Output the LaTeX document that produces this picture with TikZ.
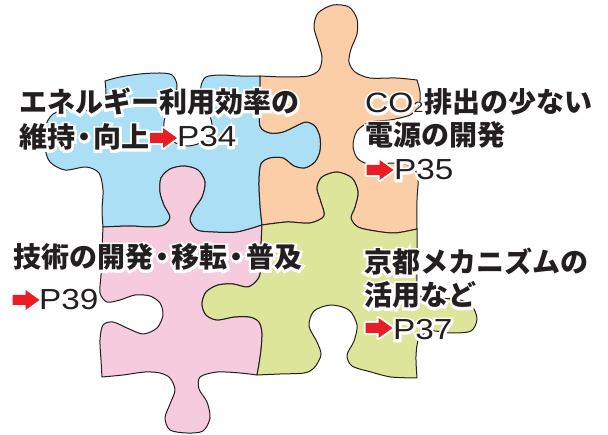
\documentclass[tikz,border=0pt]{standalone}
\usepackage{fontspec}
\newfontfamily\jpfont{Noto Sans CJK JP}
\newfontfamily\jphalo{Noto Sans CJK JP}[FakeBold=17]
\newfontfamily\latfont{Liberation Sans}[FakeStretch=1.15]
\newfontfamily\lathalo{Liberation Sans}[FakeStretch=1.15, FakeBold=17]

\definecolor{pzblue}{RGB}{171,223,246}
\definecolor{pzorange}{RGB}{252,206,168}
\definecolor{pzpink}{RGB}{246,203,222}
\definecolor{pzgreen}{RGB}{221,229,154}
\definecolor{ink}{RGB}{35,31,32}
\definecolor{arrowred}{RGB}{234,28,36}

% narrow middle dot
\newcommand\ndot{\kern-0.17em・\kern-0.17em}

% piece edges (each drawn once forward, once reversed for the neighbour)
\def\sAB{-- plot[smooth] coordinates {(105,81) (120,77) (140,74) (160,73) (172,75) (177,85) (174,100) (166,114) (164,128) (172,141) (188,146) (204,141) (212,128) (209,113) (202,100) (201,86) (206,77) (220,75) (240,76) (260,76)}}
\def\sBE{-- plot[smooth] coordinates {(260,76) (260,100) (260,126) (270,133) (283,132) (296,126) (306,122) (315,126) (320,137) (320,151) (315,162) (305,168) (294,166) (283,158) (270,158) (261,164) (259,182) (260,205) (262,225)}}
\def\sBEr{-- plot[smooth] coordinates {(262,225) (260,205) (259,182) (261,164) (270,158) (283,158) (294,166) (305,168) (315,162) (320,151) (320,137) (315,126) (306,122) (296,126) (283,132) (270,133) (260,126) (260,100) (260,76)}}
\def\sADr{-- plot[smooth] coordinates {(103,227) (102,210) (103,190) (99,173) (86,167) (65,170) (50,162) (45,148) (45,128) (53,114) (72,109) (93,111) (103,106) (106,94) (105,81)}}
\def\sDE{-- plot[smooth] coordinates {(103,227) (130,226) (150,227) (164,225) (170,217) (164,205) (160,192) (161,178) (170,169) (184,166) (198,170) (205,182) (202,197) (194,209) (190,220) (197,230) (213,232) (237,232) (262,225)}}
\def\sDEr{-- plot[smooth] coordinates {(262,225) (237,232) (213,232) (197,230) (190,220) (194,209) (202,197) (205,182) (198,170) (184,166) (170,169) (161,178) (160,192) (164,205) (170,217) (164,225) (150,227) (130,226) (103,227)}}
\def\sEF{-- plot[smooth] coordinates {(262,225) (287,222) (310,223) (324,216) (321,202) (317,188) (322,177) (337,172) (352,178) (358,192) (355,207) (351,218) (358,227) (375,231) (395,233) (417,229)}}
\def\sEFr{-- plot[smooth] coordinates {(417,229) (395,233) (375,231) (358,227) (351,218) (355,207) (358,192) (352,178) (337,172) (322,177) (317,188) (321,202) (324,216) (310,223) (287,222) (262,225)}}
\def\sBC{-- plot[smooth] coordinates {(260,76) (285,77) (308,76) (319,70) (322,57) (318,42) (314,27) (318,13) (333,5) (349,7) (357,19) (357,34) (351,49) (349,62) (355,72) (370,78) (396,78) (417,80)}}
\def\sCF{-- plot[smooth] coordinates {(417,80) (420,92) (419,106) (410,115) (390,120) (370,122) (357,131) (353,146) (358,159) (372,165) (393,163) (411,166) (418,177) (417,200) (417,229)}}
\def\sEH{-- plot[smooth] coordinates {(262,225) (261,248) (261,268) (258,279) (248,287) (233,284) (218,285) (206,292) (202,304) (206,315) (217,320) (234,317) (250,317) (259,322) (262,333) (261,350) (259,364) (257,375)}}
\def\sEHr{-- plot[smooth] coordinates {(257,375) (259,364) (261,350) (262,333) (259,322) (250,317) (234,317) (217,320) (206,315) (202,304) (206,292) (218,285) (233,284) (248,287) (258,279) (261,268) (261,248) (262,225)}}
\def\sDGr{-- plot[smooth] coordinates {(102,377) (101,360) (100,340) (103,325) (113,322) (127,328) (143,334) (157,328) (163,315) (160,303) (150,296) (135,295) (120,300) (107,302) (100,293) (101,275) (102,250) (103,227)}}
\def\sGHr{-- plot[smooth] coordinates {(257,375) (240,373) (217,372) (200,377) (199,389) (207,402) (210,418) (203,431) (187,433) (170,430) (165,418) (170,404) (175,390) (170,378) (160,373) (145,372) (123,375) (102,377)}}
\def\sFI{-- plot[smooth] coordinates {(417,229) (417,260) (417,283) (420,296) (440,298) (460,300) (472,306) (477,319) (471,331) (451,333) (431,331) (419,338) (416,356) (417,378)}}
\def\sHIr{-- plot[smooth] coordinates {(417,378) (391,377) (371,372) (352,366) (347,355) (354,341) (357,325) (349,310) (331,305) (314,311) (309,326) (317,342) (321,355) (314,368) (304,373) (280,374) (257,375)}}

\tikzset{
  piece/.style={draw=ink, line width=1pt, line join=round},
  heading/.style={anchor=base west, inner sep=0pt, text=ink,
    font={\let\latsel\latfont\jpfont\bfseries\fontsize{28}{32}\selectfont}},
  headhalo/.style={heading, text=white,
    font={\let\latsel\lathalo\jphalo\bfseries\fontsize{28}{32}\selectfont}},
  pageref/.style={anchor=base west, inner sep=0pt, text=ink,
    font=\latfont\fontsize{29}{32}\selectfont},
  pagehalo/.style={pageref, text=white,
    font=\lathalo\fontsize{29}{32}\selectfont},
  pics/redarrow/.style={code={
    \fill[arrowred, preaction={draw=white, line width=4pt, line join=round}]
      (-13.5,-5) -- (-0.5,-5) -- (-0.5,-10) -- (13.5,0) -- (-0.5,10)
      -- (-0.5,5) -- (-13.5,5) -- cycle;
  }}
}

\begin{document}
\begin{tikzpicture}[x=1pt, y=-1pt]
\useasboundingbox (0,0) rectangle (608,435);

% the four puzzle pieces
\path[piece, fill=pzblue]   (105,81)  \sAB \sBE \sDEr \sADr -- cycle;
\path[piece, fill=pzorange] (260,76)  \sBC \sCF \sEFr \sBEr -- cycle;
\path[piece, fill=pzpink]   (103,227) \sDE \sEH \sGHr \sDGr -- cycle;
\path[piece, fill=pzgreen]  (262,225) \sEF \sFI \sHIr \sEHr -- cycle;

% white outlines behind the labels
\node[headhalo] (effAh) at (19,113) {エネルギー利用効率の};
\node[headhalo] (effBh) at (19,148) {維持\ndot 向上};
\node[pagehalo] (effPh) at (177,147) {P34};
\node[headhalo] (co2Ah) at (365,113) {{\latsel\mdseries\fontsize{28}{30}\selectfont CO{\fontsize{15}{17}\selectfont 2}}\kern1pt 排出の少ない};
\node[headhalo] (co2Bh) at (365,146) {電源の開発};
\node[pagehalo] (co2Ph) at (394,180) {P35};
\node[headhalo] (techAh) at (13,268) {技術の開発\ndot 移転\ndot 普及};
\node[pagehalo] (techPh) at (39,310) {P39};
\node[headhalo] (kyAh) at (364,273) {京都メカニズムの};
\node[headhalo] (kyBh) at (364,306) {活用など};
\node[pagehalo] (kyPh) at (393,340) {P37};

% energy efficiency
\node[heading] (effA) at (19,113) {エネルギー利用効率の};
\node[heading] (effB) at (19,148) {維持\ndot 向上};
\pic at (163.5,138) {redarrow};
\node[pageref] (effP) at (177,147) {P34};

% low-CO2 power sources
\node[heading] (co2A) at (365,113) {{\latsel\mdseries\fontsize{28}{30}\selectfont CO{\fontsize{15}{17}\selectfont 2}}\kern1pt 排出の少ない};
\node[heading] (co2B) at (365,146) {電源の開発};
\pic at (380,170) {redarrow};
\node[pageref] (co2P) at (394,180) {P35};

% technology
\node[heading] (techA) at (13,268) {技術の開発\ndot 移転\ndot 普及};
\pic at (26,300) {redarrow};
\node[pageref] (techP) at (39,310) {P39};

% Kyoto mechanisms
\node[heading] (kyA) at (364,273) {京都メカニズムの};
\node[heading] (kyB) at (364,306) {活用など};
\pic at (379,328) {redarrow};
\node[pageref] (kyP) at (393,340) {P37};
\end{tikzpicture}
\end{document}
